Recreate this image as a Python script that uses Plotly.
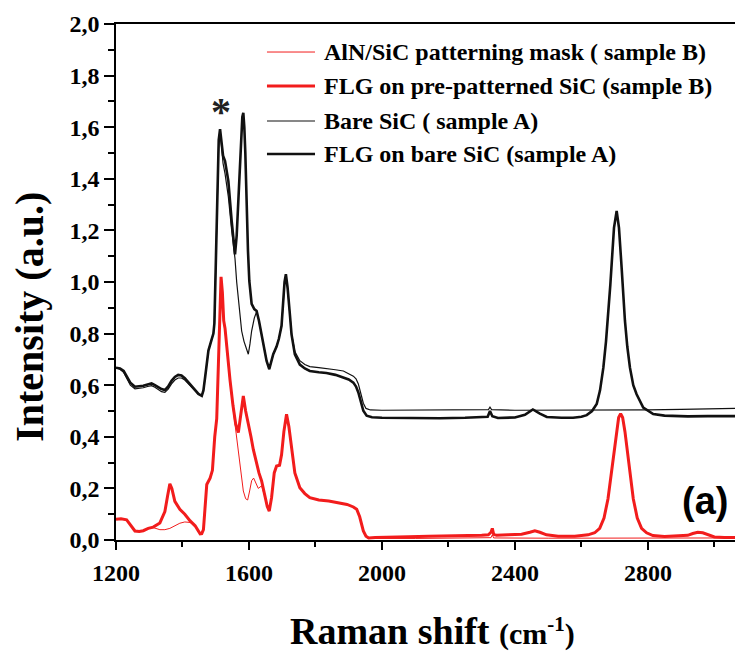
import plotly.graph_objects as go

# ---- Raman spectra (Raman shift in cm^-1, intensity in a.u.) ----
# AlN/SiC patterning mask (sample B) - thin red
mask_b_x = [1200, 1215, 1232, 1245, 1257, 1270, 1282, 1297, 1312, 1332, 1347, 1362, 1377, 1392,
            1407, 1423, 1438, 1453, 1463, 1468, 1473, 1483, 1490, 1497, 1503, 1508, 1512, 1516,
            1520, 1524, 1528, 1535, 1543, 1552, 1560, 1568, 1576, 1583, 1590, 1596, 1602, 1608,
            1614, 1620, 1628, 1638, 1648, 1655, 1661, 1668, 1676, 1683, 1692, 1698, 1705, 1713,
            1720, 1728, 1738, 1753, 1768, 1783, 1810, 1840, 1870, 1895, 1914, 1924, 1933, 1944,
            1952, 1960, 2100, 2300, 2328, 2332, 2336, 2500, 2700, 2900, 3062]
mask_b_y = [0.080, 0.082, 0.078, 0.055, 0.035, 0.033, 0.036, 0.045, 0.048, 0.040, 0.040, 0.045,
            0.055, 0.065, 0.070, 0.068, 0.055, 0.024, 0.040, 0.140, 0.215, 0.240, 0.270, 0.400,
            0.470, 0.670, 0.880, 1.000, 0.950, 0.850, 0.810, 0.710, 0.610, 0.510, 0.430, 0.350,
            0.260, 0.190, 0.160, 0.155, 0.190, 0.230, 0.240, 0.220, 0.200, 0.210, 0.165, 0.130,
            0.112, 0.165, 0.260, 0.285, 0.290, 0.330, 0.420, 0.480, 0.440, 0.355, 0.260, 0.200,
            0.178, 0.163, 0.155, 0.150, 0.144, 0.137, 0.127, 0.117, 0.088, 0.033, 0.012, 0.006,
            0.006, 0.007, 0.009, 0.020, 0.008, 0.007, 0.007, 0.007, 0.008]

# FLG on pre-patterned SiC (sample B) - thick red
flg_b_x = [1200, 1215, 1232, 1245, 1257, 1270, 1282, 1297, 1312, 1332, 1347, 1355, 1362, 1368,
           1377, 1392, 1407, 1423, 1438, 1453, 1458, 1463, 1468, 1473, 1483, 1490, 1497, 1503,
           1508, 1512, 1516, 1520, 1524, 1528, 1535, 1543, 1552, 1560, 1568, 1576, 1583, 1590,
           1598, 1606, 1613, 1622, 1630, 1638, 1648, 1655, 1661, 1668, 1676, 1683, 1692, 1698,
           1705, 1713, 1720, 1728, 1738, 1753, 1768, 1783, 1810, 1840, 1870, 1895, 1914, 1924,
           1933, 1944, 1952, 1960, 1980, 2020, 2080, 2140, 2200, 2260, 2300, 2320, 2328, 2332,
           2336, 2345, 2380, 2420, 2445, 2460, 2475, 2495, 2530, 2580, 2620, 2640, 2655, 2668,
           2680, 2690, 2698, 2705, 2712, 2718, 2724, 2731, 2738, 2746, 2756, 2768, 2781, 2796,
           2815, 2850, 2890, 2920, 2935, 2950, 2965, 2980, 3000, 3030, 3062]
flg_b_y = [0.080, 0.082, 0.078, 0.055, 0.035, 0.033, 0.036, 0.045, 0.050, 0.066, 0.110, 0.170,
           0.218, 0.200, 0.150, 0.119, 0.100, 0.074, 0.055, 0.024, 0.025, 0.040, 0.140, 0.215,
           0.240, 0.270, 0.400, 0.470, 0.680, 0.900, 1.020, 0.960, 0.850, 0.820, 0.720, 0.620,
           0.520, 0.450, 0.416, 0.500, 0.558, 0.500, 0.455, 0.400, 0.351, 0.300, 0.260, 0.229,
           0.170, 0.130, 0.112, 0.165, 0.260, 0.287, 0.290, 0.330, 0.420, 0.487, 0.440, 0.358,
           0.260, 0.203, 0.180, 0.164, 0.155, 0.151, 0.145, 0.138, 0.128, 0.119, 0.090, 0.035,
           0.015, 0.008, 0.010, 0.012, 0.013, 0.015, 0.015, 0.017, 0.018, 0.020, 0.030, 0.045,
           0.022, 0.018, 0.020, 0.022, 0.030, 0.036, 0.030, 0.020, 0.015, 0.015, 0.020, 0.028,
           0.045, 0.085, 0.160, 0.260, 0.340, 0.420, 0.475, 0.490, 0.475, 0.420, 0.340, 0.260,
           0.160, 0.085, 0.045, 0.028, 0.017, 0.014, 0.015, 0.018, 0.025, 0.030, 0.028, 0.020,
           0.012, 0.010, 0.010]

# Bare SiC (sample A) - thin black
bare_a_x = [1200, 1212, 1223, 1233, 1243, 1257, 1270, 1282, 1295, 1307, 1317, 1327, 1337, 1347,
            1357, 1367, 1377, 1387, 1397, 1407, 1418, 1428, 1438, 1448, 1458, 1463, 1468, 1473,
            1478, 1488, 1493, 1496, 1500, 1505, 1509, 1513, 1517, 1522, 1528, 1538, 1548, 1554,
            1558, 1563, 1568, 1573, 1578, 1585, 1593, 1598, 1603, 1608, 1616, 1623, 1630, 1638,
            1646, 1653, 1661, 1667, 1673, 1683, 1690, 1698, 1703, 1707, 1711, 1716, 1723, 1728,
            1738, 1753, 1768, 1783, 1810, 1833, 1860, 1884, 1900, 1914, 1922, 1929, 1937, 1944,
            1952, 1965, 2000, 2100, 2200, 2300, 2320, 2325, 2330, 2400, 2500, 2600, 2700, 2800,
            2900, 2980, 3062]
bare_a_y = [0.668, 0.662, 0.650, 0.625, 0.600, 0.586, 0.588, 0.590, 0.595, 0.598, 0.592, 0.582,
            0.575, 0.572, 0.585, 0.605, 0.620, 0.628, 0.628, 0.620, 0.605, 0.595, 0.578, 0.565,
            0.559, 0.580, 0.630, 0.690, 0.734, 0.779, 0.800, 0.840, 1.100, 1.420, 1.550, 1.590,
            1.530, 1.460, 1.420, 1.330, 1.200, 1.130, 1.090, 1.000, 0.930, 0.870, 0.810, 0.770,
            0.740, 0.720, 0.760, 0.810, 0.860, 0.885, 0.850, 0.797, 0.740, 0.694, 0.662, 0.690,
            0.720, 0.750, 0.780, 0.830, 0.930, 0.990, 1.020, 0.975, 0.875, 0.800, 0.730, 0.695,
            0.680, 0.672, 0.668, 0.665, 0.660, 0.655, 0.645, 0.635, 0.625, 0.605, 0.565, 0.530,
            0.510, 0.504, 0.503, 0.503, 0.503, 0.504, 0.505, 0.515, 0.505, 0.503, 0.503, 0.503,
            0.503, 0.504, 0.506, 0.508, 0.510]

# FLG on bare SiC (sample A) - thick black
flg_a_x = [1200, 1212, 1223, 1233, 1243, 1257, 1270, 1282, 1295, 1307, 1317, 1327, 1337, 1347,
           1357, 1367, 1377, 1387, 1397, 1407, 1418, 1428, 1438, 1448, 1458, 1463, 1468, 1473,
           1478, 1488, 1493, 1496, 1500, 1505, 1509, 1513, 1517, 1522, 1528, 1538, 1548, 1554,
           1558, 1563, 1568, 1572, 1576, 1580, 1583, 1586, 1589, 1593, 1597, 1601, 1608, 1616,
           1623, 1630, 1638, 1646, 1653, 1661, 1667, 1673, 1683, 1690, 1698, 1703, 1707, 1711,
           1716, 1723, 1728, 1738, 1753, 1768, 1783, 1810, 1833, 1860, 1884, 1900, 1914, 1922,
           1929, 1937, 1944, 1954, 1970, 2000, 2060, 2120, 2174, 2250, 2300, 2318, 2325, 2332,
           2349, 2400, 2430, 2454, 2475, 2496, 2540, 2575, 2600, 2616, 2632, 2646, 2656, 2666,
           2674, 2681, 2687, 2691, 2698, 2706, 2713, 2721, 2726, 2731, 2738, 2746, 2756, 2766,
           2786, 2816, 2850, 2876, 2920, 2980, 3020, 3062]
flg_a_y = [0.668, 0.665, 0.655, 0.635, 0.610, 0.594, 0.596, 0.598, 0.603, 0.607, 0.600, 0.591,
           0.585, 0.581, 0.595, 0.617, 0.632, 0.640, 0.638, 0.627, 0.610, 0.598, 0.580, 0.566,
           0.559, 0.580, 0.630, 0.690, 0.734, 0.779, 0.800, 0.840, 1.100, 1.420, 1.550, 1.592,
           1.550, 1.490, 1.469, 1.391, 1.236, 1.140, 1.107, 1.180, 1.327, 1.460, 1.585, 1.640,
           1.656, 1.600, 1.500, 1.288, 1.120, 1.004, 0.915, 0.895, 0.888, 0.850, 0.797, 0.740,
           0.694, 0.662, 0.690, 0.720, 0.750, 0.780, 0.830, 0.940, 1.000, 1.030, 0.980, 0.875,
           0.797, 0.720, 0.680, 0.665, 0.655, 0.650, 0.647, 0.640, 0.630, 0.622, 0.610, 0.595,
           0.572, 0.530, 0.501, 0.482, 0.476, 0.474, 0.473, 0.473, 0.472, 0.474, 0.476, 0.478,
           0.500, 0.480, 0.473, 0.475, 0.485, 0.506, 0.490, 0.477, 0.474, 0.474, 0.478, 0.484,
           0.500, 0.527, 0.580, 0.668, 0.770, 0.876, 0.990, 1.070, 1.210, 1.275, 1.210, 1.055,
           0.950, 0.849, 0.750, 0.668, 0.600, 0.565, 0.513, 0.488, 0.482, 0.481, 0.479, 0.480,
           0.479, 0.480]

series_names = ["AlN/SiC patterning mask ( sample B)",
                "FLG on pre-patterned SiC (sample B)",
                "Bare SiC ( sample A)",
                "FLG on bare SiC (sample A)"]
series_x = [mask_b_x, flg_b_x, bare_a_x, flg_a_x]
series_y = [mask_b_y, flg_b_y, bare_a_y, flg_a_y]
series_color = ["#f21c1c", "#f21c1c", "#111111", "#111111"]
series_width = [1.0, 3.0, 1.2, 2.6]

# axis ticks
x_tick_vals = [1200, 1600, 2000, 2400, 2800]
x_tick_text = ["1200", "1600", "2000", "2400", "2800"]
y_tick_vals = [0.0, 0.2, 0.4, 0.6, 0.8, 1.0, 1.2, 1.4, 1.6, 1.8, 2.0]
y_tick_text = ["0,0", "0,2", "0,4", "0,6", "0,8", "1,0", "1,2", "1,4", "1,6", "1,8", "2,0"]

SERIF = "Liberation Serif, Times New Roman, serif"

fig = go.Figure()
for name, xs, ys, col, w in zip(series_names, series_x, series_y, series_color, series_width):
    fig.add_trace(go.Scatter(x=xs, y=ys, mode="lines", name=name,
                             line=dict(color=col, width=w), showlegend=False))

# legend drawn as line samples + labels at the top of the plot
legend_rows_y = [0.9457, 0.8798, 0.812, 0.748]
for name, col, w, ry in zip(series_names, series_color, series_width, legend_rows_y):
    fig.add_shape(type="line", xref="paper", yref="paper", x0=0.2439, x1=0.3215,
                  y0=ry, y1=ry, line=dict(color=col, width=w))
    fig.add_annotation(xref="paper", yref="paper", x=0.3328, y=ry, text=name,
                       showarrow=False, xanchor="left", yanchor="middle",
                       font=dict(family=SERIF, size=24, color="black", weight="bold"))

# asterisk over the SiC band
fig.add_annotation(x=1516, y=1.66, text="*", showarrow=False, xanchor="center", yanchor="middle",
                   font=dict(family=SERIF, size=40, color="#222", weight="bold"))

# panel label
fig.add_annotation(xref="paper", yref="paper", x=0.952, y=0.0756, text="(a)", showarrow=False,
                   xanchor="center", yanchor="middle",
                   font=dict(family="Liberation Sans, Arial, sans-serif", size=38,
                             color="black", weight="bold"))

# axis titles
fig.add_annotation(xref="paper", yref="paper", x=-0.141, y=0.432, text="Intensity (a.u.)",
                   textangle=-90, showarrow=False, xanchor="center", yanchor="middle",
                   font=dict(family=SERIF, size=40, color="black", weight="bold"))
fig.add_annotation(xref="paper", yref="paper", x=0.512, y=-0.176,
                   text="Raman shift <span style='font-size:30px'>(cm<sup>-1</sup>)</span>",
                   showarrow=False, xanchor="center", yanchor="middle",
                   font=dict(family=SERIF, size=38, color="black", weight="bold"))

fig.update_layout(
    width=735, height=655,
    margin=dict(l=116, r=0, t=24, b=115),
    paper_bgcolor="white", plot_bgcolor="white",
    xaxis=dict(range=[1200, 3062], tickvals=x_tick_vals, ticktext=x_tick_text,
               ticks="outside", ticklen=8, tickwidth=1.5, tickcolor="black",
               showline=True, linecolor="black", linewidth=1.5, mirror=True,
               showgrid=False, zeroline=False, ticklabelstandoff=2,
               minor=dict(dtick=200, tick0=1200, ticks="outside", ticklen=5,
                          tickwidth=1.5, tickcolor="black", showgrid=False),
               tickfont=dict(family=SERIF, size=24, color="black", weight="bold")),
    yaxis=dict(range=[0, 2.0], tickvals=y_tick_vals, ticktext=y_tick_text,
               ticks="outside", ticklen=10, tickwidth=1.5, tickcolor="black",
               showline=True, linecolor="black", linewidth=1.5, mirror=False,
               showgrid=False, zeroline=False,
               minor=dict(dtick=0.1, tick0=0, ticks="outside", ticklen=6,
                          tickwidth=1.5, tickcolor="black", showgrid=False),
               tickfont=dict(family=SERIF, size=24, color="black", weight="bold")),
)

fig.write_html("out.html")
